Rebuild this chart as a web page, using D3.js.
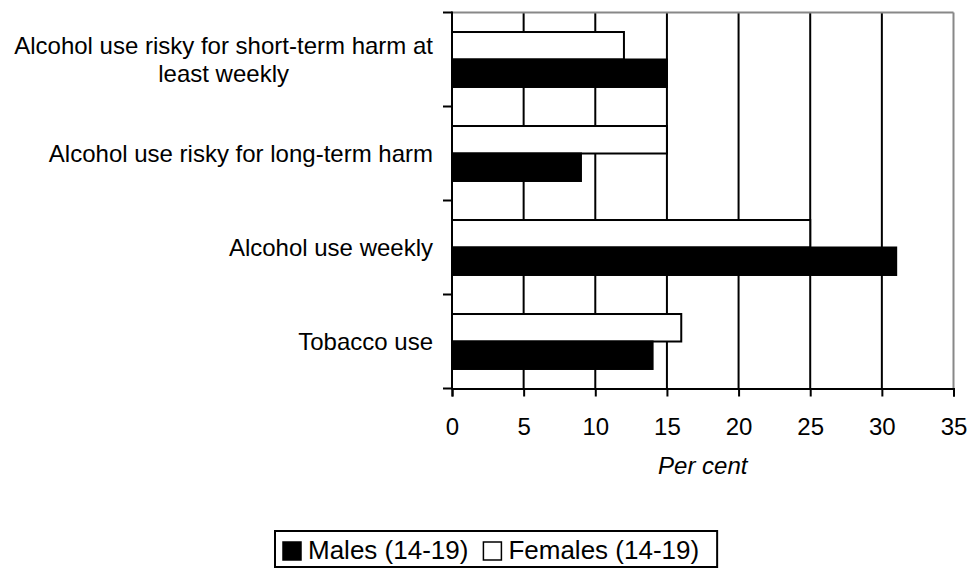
<!DOCTYPE html>
<html>
<head>
<meta charset="utf-8">
<script src="https://cdn.jsdelivr.net/npm/d3@7"></script>
<style>
  body { margin: 0; background: #fff; }
  text { font-family: "Liberation Sans", Arial, sans-serif; fill: #000; }
</style>
</head>
<body>
<svg id="chart" width="972" height="570"></svg>
<script>
// data
var categories = [
  "Alcohol use risky for short-term harm at least weekly",
  "Alcohol use risky for long-term harm",
  "Alcohol use weekly",
  "Tobacco use"
];
var labelLines = [
  ["Alcohol use risky for short-term harm at", "least weekly"],
  ["Alcohol use risky for long-term harm"],
  ["Alcohol use weekly"],
  ["Tobacco use"]
];
var females = [12, 15, 25, 16];
var males = [15, 9, 31, 14];
var xTicks = [0, 5, 10, 15, 20, 25, 30, 35];
var seriesNames = ["Females (14-19)", "Males (14-19)"];

var margin = { top: 12.5, left: 452, right: 18.5, bottom: 181.5 };
var width = 972 - margin.left - margin.right,
    height = 570 - margin.top - margin.bottom;

var svg = d3.select("#chart");
var g = svg.append("g").attr("transform", "translate(" + margin.left + "," + margin.top + ")");

var x = d3.scaleLinear().domain([0, 35]).range([0, width]);
var y = d3.scaleBand().domain(categories).range([0, height]).padding(0);
var ySub = d3.scaleBand().domain(seriesNames).range([0, y.bandwidth()])
  .paddingInner(0).paddingOuter(0.71);

// gridlines
g.selectAll(".grid")
  .data(xTicks.filter(function(d) { return d > 0; }))
  .enter().append("line")
  .attr("x1", function(d) { return x(d); })
  .attr("x2", function(d) { return x(d); })
  .attr("y1", 0).attr("y2", height)
  .attr("stroke", function(d) { return d === 35 ? "#888" : "#000"; })
  .attr("stroke-width", 2);

// top border
g.append("line").attr("x1", 0).attr("x2", width).attr("y1", 0).attr("y2", 0)
  .attr("stroke", "#888").attr("stroke-width", 2);

var rows = categories.map(function(c, i) {
  return [
    { cat: c, s: seriesNames[0], v: females[i], fill: "#fff" },
    { cat: c, s: seriesNames[1], v: males[i], fill: "#000" }
  ];
});

g.selectAll(".row")
  .data(rows)
  .enter().append("g")
  .attr("transform", function(d) { return "translate(0," + y(d[0].cat) + ")"; })
  .selectAll("rect")
  .data(function(d) { return d; })
  .enter().append("rect")
  .attr("x", x(0))
  .attr("y", function(d) { return ySub(d.s); })
  .attr("width", function(d) { return x(d.v) - x(0); })
  .attr("height", ySub.bandwidth())
  .attr("fill", function(d) { return d.fill; })
  .attr("stroke", "#000")
  .attr("stroke-width", 2);

// x axis
var xAxis = g.append("g")
  .attr("transform", "translate(0," + height + ")")
  .call(d3.axisBottom(x).tickValues(xTicks).tickSize(8).tickPadding(21.5));
xAxis.select(".domain").attr("stroke-width", 2);
xAxis.selectAll(".tick line").attr("stroke-width", 2);
xAxis.selectAll(".tick text").style("font-size", "24px").attr("font-family", null);

g.append("text")
  .attr("x", width / 2)
  .attr("y", height + 85)
  .attr("text-anchor", "middle")
  .style("font-size", "24px")
  .style("font-style", "italic")
  .text("Per cent");

// y axis (ticks at band edges)
var yEdges = categories.map(function(c) { return y(c); }).concat([height]);
g.append("line").attr("x1", 0).attr("x2", 0).attr("y1", -1).attr("y2", height + 1)
  .attr("stroke", "#000").attr("stroke-width", 2);
g.selectAll(".ytick")
  .data(yEdges)
  .enter().append("line")
  .attr("x1", -9).attr("x2", 0)
  .attr("y1", function(d) { return d; }).attr("y2", function(d) { return d; })
  .attr("stroke", "#000").attr("stroke-width", 2);

// category labels
var lineH = 28;
categories.forEach(function(c, i) {
  var lines = labelLines[i];
  var cy = y(c) + y.bandwidth() / 2;
  var t = g.append("text")
    .attr("text-anchor", lines.length > 1 ? "middle" : "end")
    .style("font-size", "24px");
  var tx = -19;
  if (lines.length > 1) {
    // measure widest line to center the block against the right edge
    var probe = g.append("text").style("font-size", "24px").text(lines[0]);
    var w = probe.node().getComputedTextLength();
    probe.remove();
    tx = -19 - w / 2;
  }
  lines.forEach(function(l, j) {
    t.append("tspan")
      .attr("x", tx)
      .attr("y", cy + (j - (lines.length - 1) / 2) * lineH + 8.5)
      .text(l);
  });
});

// legend
var leg = svg.append("g");
var legItems = [
  { name: seriesNames[1], fill: "#000" },
  { name: seriesNames[0], fill: "#fff" }
];
var lx = 283;
legItems.forEach(function(d) {
  leg.append("rect").attr("x", lx).attr("y", 542).attr("width", 18).attr("height", 18)
    .attr("fill", d.fill).attr("stroke", "#000").attr("stroke-width", 1.5);
  var t = leg.append("text").attr("x", lx + 25).attr("y", 559)
    .style("font-size", "26px").text(d.name);
  lx = lx + 25 + t.node().getComputedTextLength() + 15;
});
leg.insert("rect", ":first-child")
  .attr("x", 275).attr("y", 531)
  .attr("width", lx - 15 + 18 - 275).attr("height", 36)
  .attr("fill", "none").attr("stroke", "#000").attr("stroke-width", 2);
</script>
</body>
</html>
